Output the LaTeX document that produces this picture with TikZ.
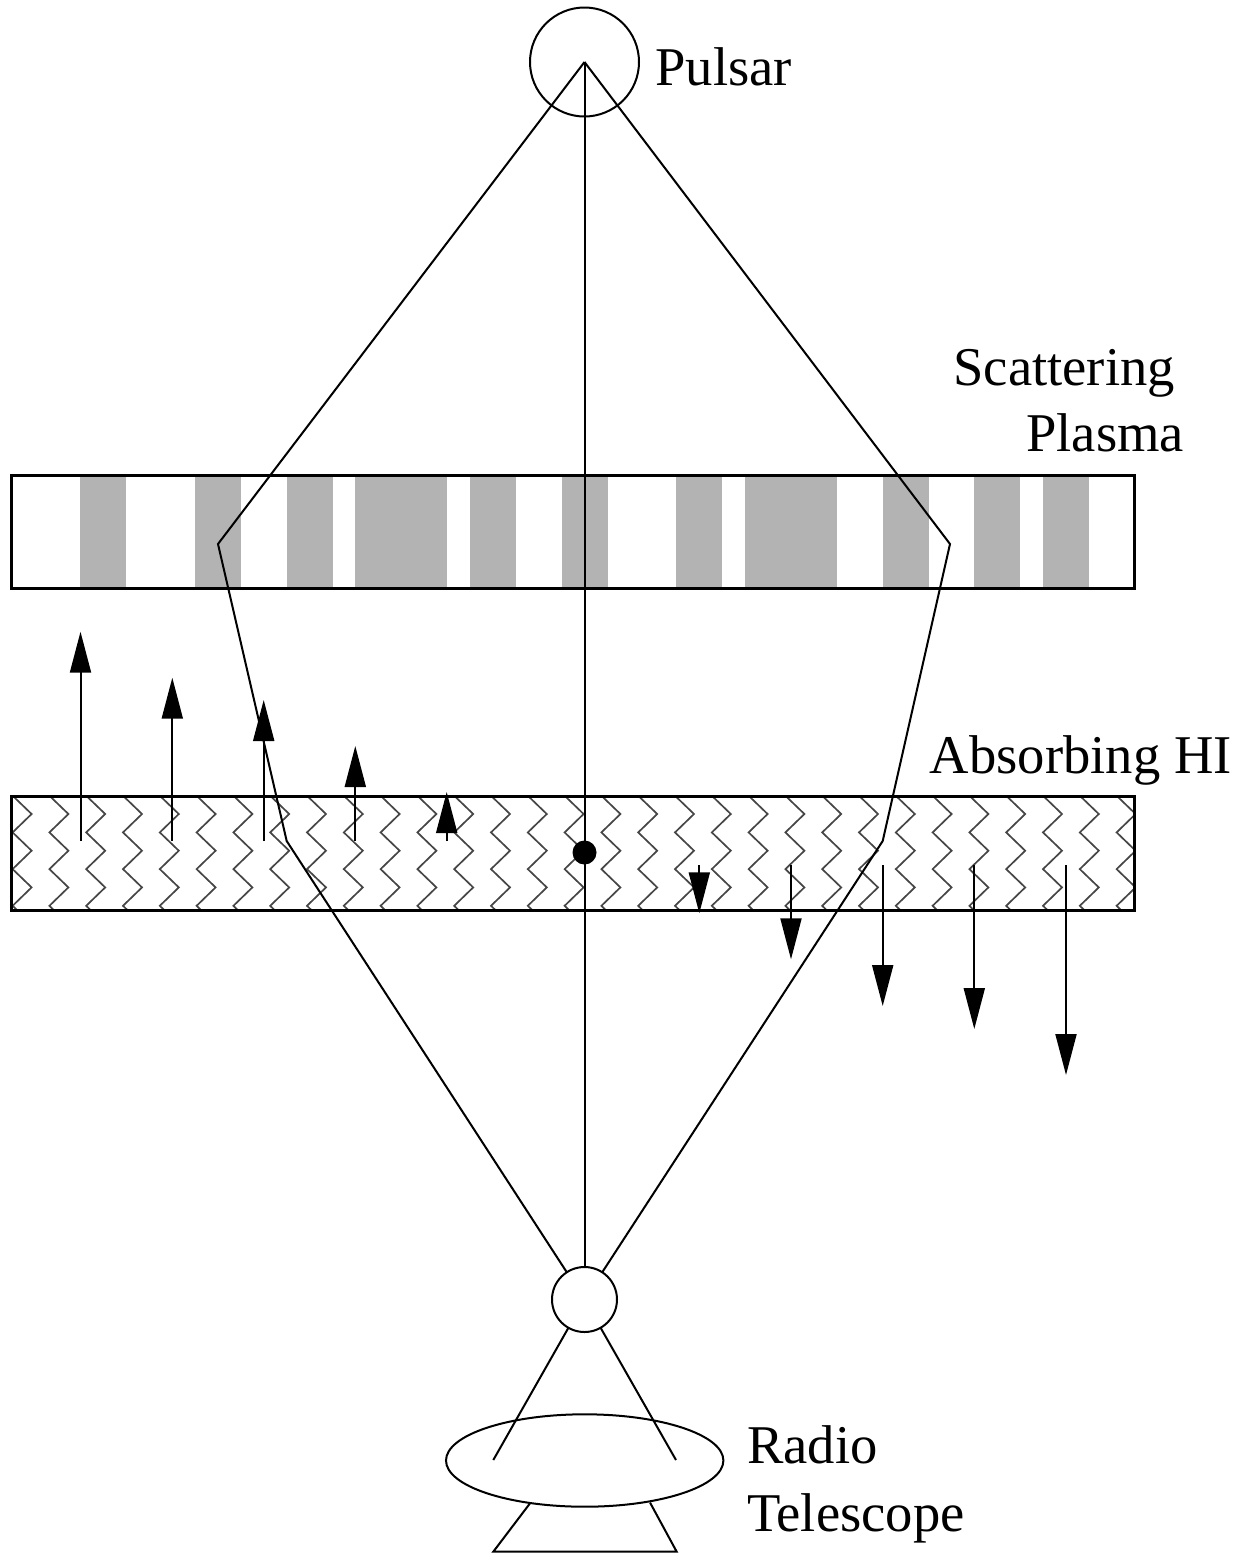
\documentclass[tikz,border=0pt]{standalone}
\usepackage{fontspec}
\setmainfont{Liberation Serif}
\usetikzlibrary{arrows.meta,shapes.geometric}
\definecolor{stripegray}{RGB}{179,179,179}
\definecolor{zzgray}{RGB}{70,70,70}
\begin{document}
\begin{tikzpicture}[x=0.5pt,y=-0.5pt,
  ray/.style={line width=1pt},
  band/.style={line width=1.5pt},
  vel/.style={line width=1pt,-{Triangle[length=20.5pt,width=10.5pt]}},
  lbl/.style={anchor=base west,inner sep=0pt,font=\fontsize{27.3}{32}\selectfont},
  zz/.style={line width=0.85pt,zzgray},
  ring/.style={circle,draw,line width=1pt,inner sep=0pt,outer sep=0pt}]
\useasboundingbox (0,0) rectangle (1245,1554);

% scattering plasma
\foreach \a/\b in {80/126,195/241,287/333,355/447,470/516,562/608,676/722,745/837,883/929,974/1020,1043/1089}
  \fill[stripegray] (\a,475) rectangle (\b,588);
\draw[band] (11,475) rectangle (1134,588);

% absorbing HI
\begin{scope}
  \clip (11,796) rectangle (1134,910);
  \foreach \k in {-1,...,31} {
    \pgfmathsetmacro\xa{12.6+36.8*\k}
    \pgfmathsetmacro\xb{\xa+19}
    \draw[zz] (\xb,777.4) -- (\xa,795.7) -- (\xb,814) -- (\xa,832.4) -- (\xb,850.7) -- (\xa,869.1) -- (\xb,887.4) -- (\xa,905.8) -- (\xb,924.1);
  }
\end{scope}
\draw[band] (11,796) rectangle (1134,910);

% velocity arrows
\foreach \x/\t in {80.5/631.7,172.3/677.7,263.7/700,355.3/746,446.7/792}
  \draw[vel] (\x,841) -- (\x,\t);
\foreach \x/\t in {699.3/913.3,791/959.3,882.7/1006,974.3/1029,1066/1075}
  \draw[vel] (\x,865) -- (\x,\t);

% nodes
\node[ring,minimum size=54.5pt] (psr) at (584.5,62) {};
\node[ring,minimum size=32.5pt] (rx) at (584.5,1299.5) {};
\node[ellipse,draw,line width=1pt,minimum width=138.7pt,minimum height=46.2pt,inner sep=0pt,outer sep=0pt] (dish) at (584.7,1460.5) {};

\coordinate (bl1) at (218,544);
\coordinate (bl2) at (286.7,841);
\coordinate (br1) at (950,544);
\coordinate (br2) at (882.7,841);
\coordinate (fl) at (493.3,1460);
\coordinate (fr) at (676,1460);
\coordinate (tl) at (530,1503.3);
\coordinate (tbl) at (493.3,1551.7);
\coordinate (tbr) at (676.7,1551.7);
\coordinate (tr) at (650,1502.5);

% rays
\draw[ray] (psr.center) -- (bl1) -- (bl2) -- (rx);
\draw[ray] (psr.center) -- (br1) -- (br2) -- (rx);
\draw[ray] (psr.center) -- (rx);
\node[circle,fill,minimum size=12pt,inner sep=0pt] (dot) at (584.5,852.5) {};

% telescope
\draw[ray] (rx) -- (fl);
\draw[ray] (rx) -- (fr);
\draw[ray] (tl) -- (tbl) -- (tbr) -- (tr);

% labels
\node[lbl] (tpsr) at (655,85) {Pulsar};
\node[lbl] (tsc) at (953,385) {Scattering};
\node[lbl] (tpl) at (1026,451.5) {Plasma};
\node[lbl] (tab) at (929.5,773.3) {Absorbing HI};
\node[lbl] (trad) at (746.7,1463) {Radio};
\node[lbl] (ttel) at (746.7,1531) {Telescope};
\end{tikzpicture}
\end{document}
